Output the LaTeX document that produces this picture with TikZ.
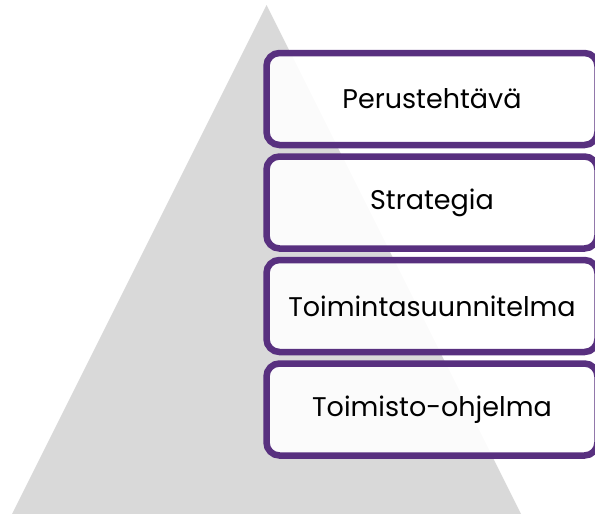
\documentclass[tikz,border=0pt]{standalone}
\usepackage{fontspec}
\setmainfont{Poppins}
\usepackage{xcolor}
\usepackage{tikz}
\definecolor{pyramidgray}{HTML}{D9D9D9}
\definecolor{levelpurple}{HTML}{58307F}
\tikzset{
  levelbox/.style={draw=levelpurple, line width=6.5pt, fill=white, fill opacity=0.9, text opacity=1,
    rounded corners=13pt, minimum width=331pt, minimum height=92pt, inner sep=0pt,
    font=\fontsize{27}{27}\selectfont, text=black}
}

\begin{document}
\begin{tikzpicture}[x=1pt, y=-1pt]
  \useasboundingbox (0,0) rectangle (595,514);
  \clip (0,0) rectangle (595,514);

  \fill[pyramidgray] (266.5,5) -- (521,514) -- (12,514) -- cycle;

  \node[levelbox] (perus) at (432,99) {Perustehtävä};
  \node[levelbox] (strategia) at (432,202.5) {Strategia};
  \node[levelbox] (toiminta) at (432,306) {Toimintasuunnitelma};
  \node[levelbox] (toimisto) at (432,409.5) {Toimisto-ohjelma};
\end{tikzpicture}
\end{document}
